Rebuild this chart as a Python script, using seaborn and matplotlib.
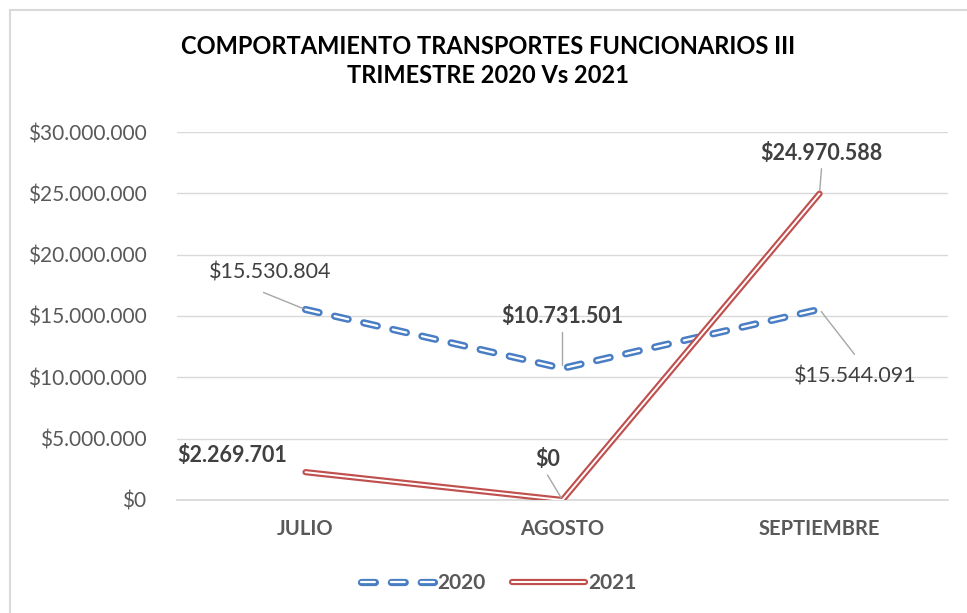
import matplotlib
matplotlib.use("Agg")
import matplotlib.pyplot as plt
import matplotlib.patheffects as pe
import seaborn as sns
import pandas as pd
from matplotlib.lines import Line2D
from matplotlib.ticker import FuncFormatter

# datos
meses = ["JULIO", "AGOSTO", "SEPTIEMBRE"]
valores_2020 = [15530804, 10731501, 15544091]
valores_2021 = [2269701, 0, 24970588]

df = pd.DataFrame({"mes": meses, "2020": valores_2020, "2021": valores_2021})

sns.set_theme(style="white")
plt.rcParams["font.family"] = ["Lato", "DejaVu Sans"]
plt.rcParams["lines.scale_dashes"] = False

AZUL = "#4a7ec4"
ROJO = "#c0504d"
GRIS = "#595959"

fig = plt.figure(figsize=(9.67, 6.13), dpi=100)
ax = fig.add_axes([177 / 967, 113 / 613, 771 / 967, 368 / 613])

# linea doble: trazo de color grueso + trazo blanco fino encima
doble_azul = [pe.Stroke(linewidth=5.2, foreground=AZUL), pe.Normal()]
doble_rojo = [pe.Stroke(linewidth=4.5, foreground=ROJO), pe.Normal()]

sns.lineplot(data=df, x="mes", y="2020", ax=ax, color="white", lw=1.6,
             linestyle=(0, (10, 11.5)), dash_capstyle="round",
             path_effects=doble_azul, legend=False, zorder=3)
sns.lineplot(data=df, x="mes", y="2021", ax=ax, color="white", lw=1.4,
             solid_capstyle="round", path_effects=doble_rojo,
             legend=False, zorder=3)

ax.set_xlim(-0.5, 2.5)
ax.set_ylim(0, 30000000)
ax.set_yticks(range(0, 30000001, 5000000))

def fmt(v):
    return "$" + f"{int(v):,}".replace(",", ".")

ax.yaxis.set_major_formatter(FuncFormatter(lambda v, p: fmt(v)))
ax.set_xlabel("")
ax.set_ylabel("")
for t in ax.get_xticklabels():
    t.set_fontweight("bold")
ax.tick_params(axis="y", labelsize=15, labelcolor=GRIS, length=0, pad=22)
ax.tick_params(axis="x", labelsize=14.5, labelcolor=GRIS, length=0, pad=14)
ax.grid(axis="y", color="#d9d9d9", lw=1)
for s in ["top", "right", "left"]:
    ax.spines[s].set_visible(False)
ax.spines["bottom"].set_color("#d9d9d9")

# etiquetas de datos: (x, valor, offset texto px, peso, offset guia px)
etq = [
    (0, valores_2020[0], (-35, 37), "normal", (-42, 17)),
    (1, valores_2020[1], (0, 52), "bold", (0, 36)),
    (2, valores_2020[2], (36, -67), "normal", (35, -45)),
    (0, valores_2021[0], (-73, 17), "bold", None),
    (1, valores_2021[1], (-15, 41), "bold", (-15, 25)),
    (2, valores_2021[2], (2, 40), "bold", (2, 25)),
]
PX = 0.72
for xi, v, off, w, guia in etq:
    ax.annotate(fmt(v), xy=(xi, v), xytext=(off[0] * PX, off[1] * PX),
                textcoords="offset points", ha="center", va="center",
                fontsize=15.5, fontweight=w, color="#404040", zorder=5)
    if guia:
        ax.annotate("", xy=(xi, v), xytext=(guia[0] * PX, guia[1] * PX),
                    textcoords="offset points",
                    arrowprops=dict(arrowstyle="-", color="#a6a6a6", lw=1,
                                    shrinkA=0, shrinkB=2), zorder=5)

fig.text(488 / 967, 1 - 61 / 613, "COMPORTAMIENTO TRANSPORTES FUNCIONARIOS III\nTRIMESTRE 2020 Vs 2021",
         ha="center", va="center", fontsize=17, fontweight="bold",
         color="black", linespacing=1.3)

# leyenda
h20 = Line2D([], [], color="white", lw=1.6, linestyle=(0, (10, 11.5)),
             dash_capstyle="round", path_effects=doble_azul)
h21 = Line2D([], [], color="white", lw=1.4, solid_capstyle="round",
             path_effects=doble_rojo)
leg = fig.legend([h20, h21], ["2020", "2021"],
                 loc="center", bbox_to_anchor=(499 / 967, 1 - 583 / 613),
                 ncol=2, frameon=False, handlelength=3.5, columnspacing=1.3,
                 handletextpad=0.15, fontsize=15)
for t in leg.get_texts():
    t.set_color(GRIS)
    t.set_fontweight("bold")

# borde del area del grafico
fig.add_artist(Line2D([10 / 967, 10 / 967], [0, 1 - 10 / 613], color="#d9d9d9", lw=1.5,
                      transform=fig.transFigure))
fig.add_artist(Line2D([10 / 967, 1], [1 - 10 / 613, 1 - 10 / 613], color="#d9d9d9", lw=1.5,
                      transform=fig.transFigure))

fig.savefig("out.png", dpi=100)
